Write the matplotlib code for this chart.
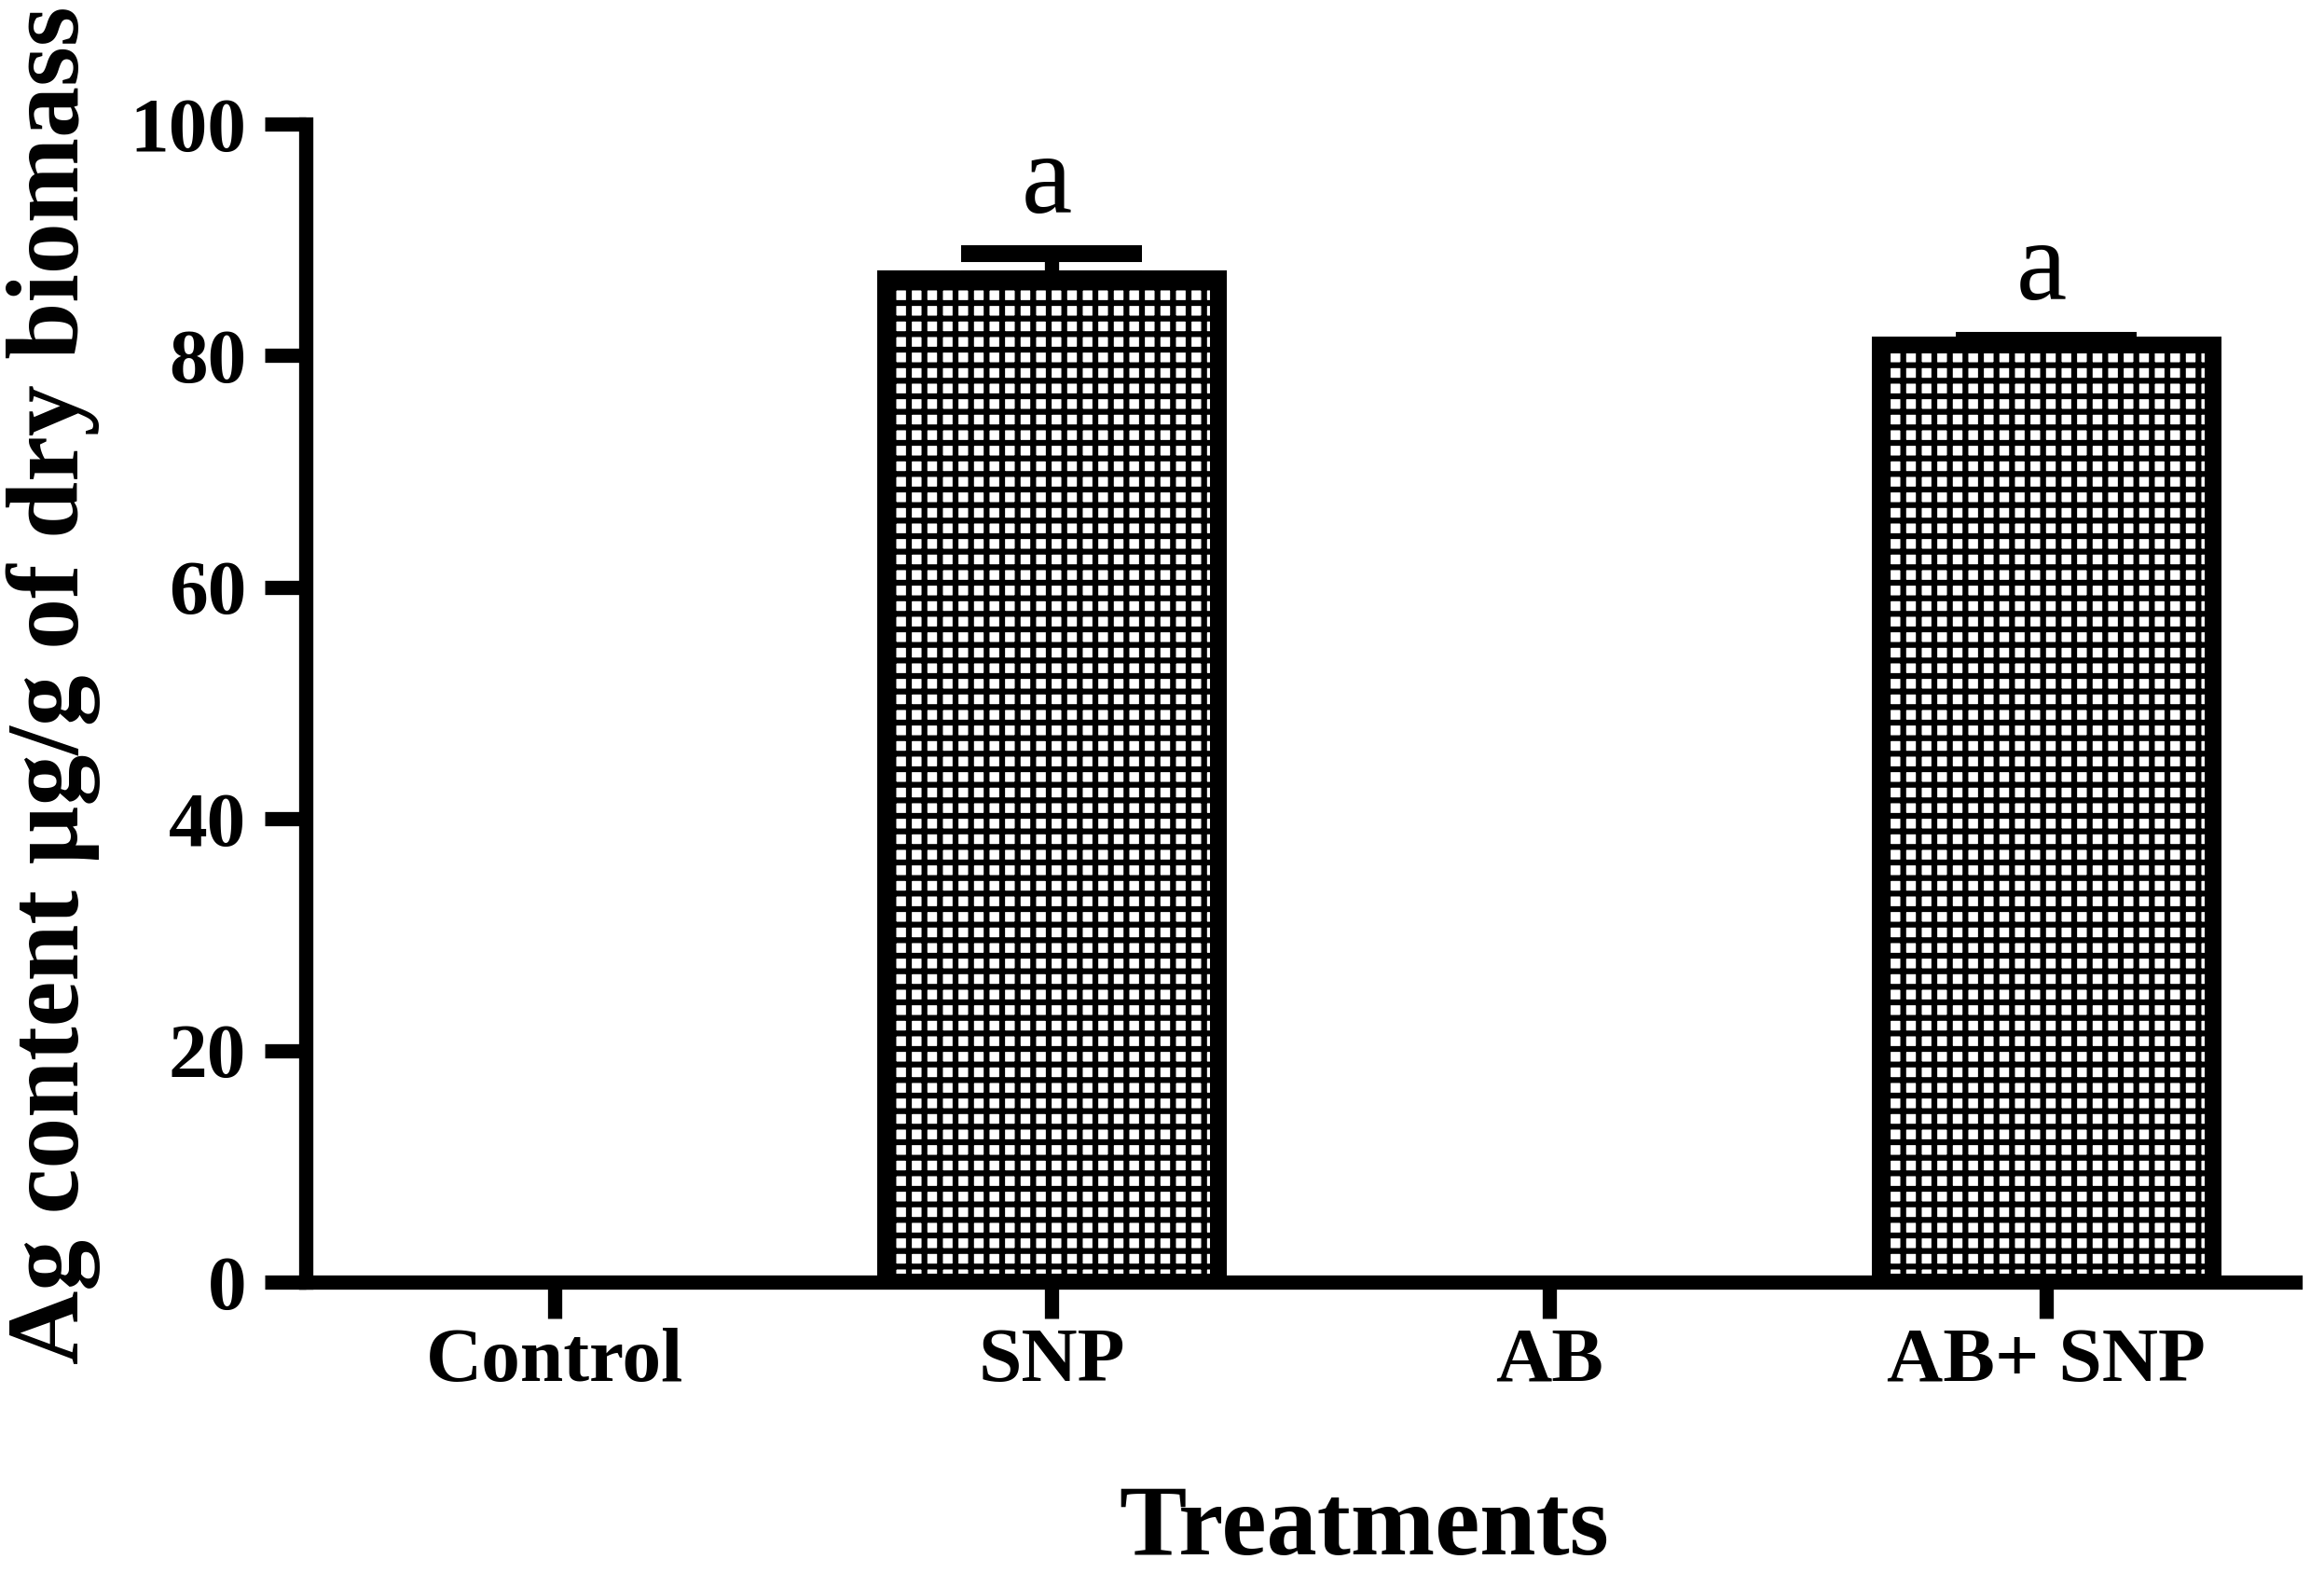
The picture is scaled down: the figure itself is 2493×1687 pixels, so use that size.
import numpy as np
import matplotlib
matplotlib.use("Agg")
import matplotlib.pyplot as plt

# Values
treatments = ["Control", "SNP", "AB", "AB+ SNP"]
ag_content = [0.0, 86.6, 0.0, 80.9]
ag_err = [0.0, 2.2, 0.0, 0.4]
letters = ["", "a", "", "a"]
y_ticks = [0, 20, 40, 60, 80, 100]

plt.rcParams['font.family'] = ['Liberation Serif', 'DejaVu Serif']
plt.rcParams['hatch.linewidth'] = 4.5
plt.rcParams['hatch.color'] = 'black'

W, H = 2493, 1687
fig = plt.figure(figsize=(W / 100, H / 100), dpi=100)
ax = fig.add_axes([328 / W, 312 / H, 2134 / W, 1242 / H])

x = np.arange(len(treatments))
vals = np.array(ag_content)
errs = np.array(ag_err)
m = vals > 0

# zero bars get no outline, so nothing is drawn for Control / AB
ax.bar(x, vals, width=0.67, color='white', edgecolor='black',
       linewidth=np.where(m, 13, 0), hatch='+', zorder=3)

# upward error bars only
ax.errorbar(x[m], vals[m], yerr=[np.zeros(m.sum()), errs[m]], fmt='none',
            ecolor='black', elinewidth=11, capsize=70, capthick=13, zorder=2)

for xi, v, e, lab in zip(x, vals, errs, letters):
    if lab:
        ax.annotate(lab, xy=(xi, v + e), xytext=(-4, 32), textcoords='offset points',
                    ha='center', va='baseline', fontsize=88)

ax.set_xlim(-0.5, 3.5)
ax.set_ylim(0, 100)
ax.set_yticks(y_ticks)
ax.set_xticks(x)
ax.set_xticklabels(treatments, fontsize=60, fontweight='bold')
ax.set_yticklabels([str(t) for t in y_ticks], fontsize=60, fontweight='bold')

for s in ['top', 'right']:
    ax.spines[s].set_visible(False)
for s in ['left', 'bottom']:
    ax.spines[s].set_linewidth(11)
    ax.spines[s].set_capstyle('projecting')

ax.tick_params(axis='y', direction='out', length=32, width=11, pad=14)
ax.tick_params(axis='x', direction='out', length=28, width=11, pad=7)

fig.text(57 / W, 952 / H, "Ag content µg/g of dry biomass", rotation=90,
         ha='center', va='center', fontsize=79, fontweight='bold')
fig.text(1463 / W, 20 / H, "Treatments", ha='center', va='baseline',
         fontsize=78, fontweight='bold')

fig.savefig("out.png", dpi=100, facecolor='white')
